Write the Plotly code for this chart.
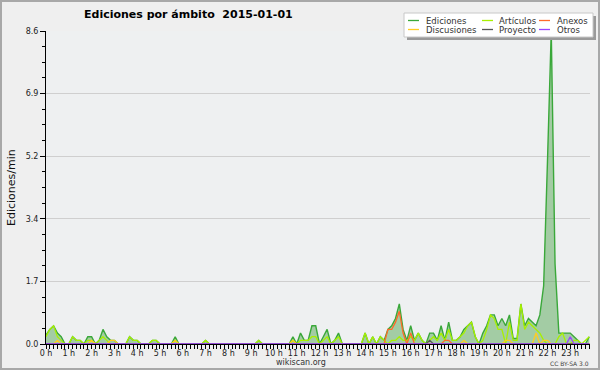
import plotly.graph_objects as go

# ---- data (10-minute steps, 00:00 .. 23:50), edits per minute ----
minutes = list(range(0, 1440, 10))
hour_labels = [f"{h} h" for h in range(24)]
hour_ticks = [h * 60 for h in range(24)]
y_ticks = [0, 1.72, 3.44, 5.16, 6.88, 8.6]
y_tick_labels = ["0.0", "1.7", "3.4", "5.2", "6.9", "8.6"]

ediciones = [
    0.25, 0.4, 0.5, 0.3, 0.2, 0,      # 0 h
    0, 0.2, 0.1, 0.1, 0, 0.2,         # 1 h
    0.2, 0, 0.1, 0.4, 0.2, 0.1,       # 2 h
    0.1, 0, 0, 0, 0.2, 0.1,           # 3 h
    0.1, 0, 0, 0, 0.1, 0.1,           # 4 h
    0, 0, 0, 0, 0.2, 0,               # 5 h
    0, 0, 0, 0, 0, 0,                 # 6 h
    0.1, 0, 0, 0, 0, 0,               # 7 h
    0, 0, 0, 0, 0, 0,                 # 8 h
    0, 0, 0.1, 0, 0, 0,               # 9 h
    0, 0, 0, 0, 0, 0.2,               # 10 h
    0, 0.3, 0.1, 0.1, 0.5, 0.5,       # 11 h
    0, 0.2, 0.4, 0, 0.1, 0.3,         # 12 h
    0, 0, 0, 0, 0, 0,                 # 13 h
    0.3, 0, 0.2, 0, 0.2, 0.1,         # 14 h
    0.4, 0.5, 0.7, 1.1, 0.4, 0.1,     # 15 h
    0.5, 0.1, 0.3, 0.1, 0, 0.3,       # 16 h
    0.3, 0.1, 0.5, 0.1, 0.6, 0.1,     # 17 h
    0.1, 0.2, 0.4, 0.5, 0.6, 0.2,     # 18 h
    0, 0.3, 0.5, 0.8, 0.8, 0.5,       # 19 h
    0.7, 0.5, 0.8, 0.15, 0.15, 1.1,   # 20 h
    0.5, 0.7, 0.6, 0.5, 0.8, 1.6,     # 21 h
    5.0, 8.6, 2.2, 0.3, 0.3, 0.3,     # 22 h
    0.3, 0.2, 0.1, 0, 0, 0.2,         # 23 h
]

articulos = [
    0.2, 0.4, 0.5, 0.2, 0.1, 0,
    0, 0.2, 0.1, 0.1, 0, 0.1,
    0.1, 0, 0.1, 0.2, 0.1, 0,
    0, 0, 0, 0, 0.2, 0.1,
    0.1, 0, 0, 0, 0.1, 0.1,
    0, 0, 0, 0, 0.1, 0,
    0, 0, 0, 0, 0, 0,
    0.1, 0, 0, 0, 0, 0,
    0, 0, 0, 0, 0, 0,
    0, 0, 0.1, 0, 0, 0,
    0, 0, 0, 0, 0, 0.1,
    0, 0.1, 0.1, 0.1, 0.2, 0.2,
    0, 0.1, 0.2, 0, 0.1, 0.2,
    0, 0, 0, 0, 0, 0,
    0.3, 0, 0.2, 0, 0.2, 0.1,
    0, 0.1, 0.1, 0.2, 0.1, 0.1,
    0.2, 0.1, 0.3, 0.1, 0, 0.1,
    0.2, 0.1, 0.3, 0.1, 0.4, 0.1,
    0.1, 0.2, 0.3, 0.5, 0.6, 0.2,
    0, 0.1, 0.4, 0.8, 0.7, 0.4,
    0.4, 0, 0.6, 0.1, 0.1, 1.1,
    0.4, 0.6, 0.5, 0.4, 0.3, 0.1,
    0, 0, 0, 0.2, 0.3, 0,
    0, 0.1, 0.1, 0, 0.1, 0.2,
]

anexos = [0] * 90 + [
    0.4, 0.4, 0.6, 0.9, 0.3, 0,       # 15 h
    0.3, 0, 0, 0, 0, 0,               # 16 h
    0, 0, 0, 0.1, 0.1, 0,             # 17 h
] + [0] * 36

discusiones = [
    0, 0, 0, 0.1, 0, 0,
    0, 0, 0, 0, 0, 0,
    0.1, 0, 0, 0, 0, 0.1,
    0.1, 0, 0, 0, 0, 0,
    0, 0, 0, 0, 0, 0,
    0, 0, 0, 0, 0.1, 0,
    0, 0, 0, 0, 0, 0,
    0, 0, 0, 0, 0, 0,
    0, 0, 0, 0, 0, 0,
    0, 0, 0, 0, 0, 0,
    0, 0, 0, 0, 0, 0.1,
    0, 0, 0, 0, 0, 0,
    0, 0, 0, 0, 0, 0,
    0, 0, 0, 0, 0, 0,
    0, 0, 0, 0, 0, 0,
    0, 0, 0, 0, 0, 0,
    0, 0, 0, 0, 0, 0,
    0, 0, 0, 0, 0, 0,
    0, 0, 0.1, 0, 0, 0,
    0, 0, 0, 0, 0, 0,
    0, 0.1, 0.1, 0, 0, 0,
    0, 0, 0, 0.3, 0, 0.1,
    0.1, 0, 0, 0, 0, 0,
    0, 0, 0, 0, 0, 0,
]

proyecto = [0] * 101 + [0.1] + [0] * 42
otros = [0] * 138 + [0.2] + [0] * 5

series = [
    ("Ediciones", ediciones, "#3aa83a"),
    ("Artículos", articulos, "#a8f000"),
    ("Anexos", anexos, "#ff6a2a"),
    ("Discusiones", discusiones, "#ffcc22"),
    ("Proyecto", proyecto, "#555555"),
    ("Otros", otros, "#9a44ff"),
]

# ---- layout geometry ----
W, H = 600, 370
L, R, T, B = 46, 10, 31, 26
PW, PH = W - L - R, H - T - B


def px(x):
    return (x - L) / PW


def py(y):
    return (H - B - y) / PH


FONT = "DejaVu Sans"
fig = go.Figure()

name, vals, col = series[0]
fig.add_trace(go.Scatter(x=minutes, y=vals, mode="lines", name=name,
                         line=dict(color=col, width=1.4),
                         fill="tozeroy", fillcolor="rgba(70,160,70,0.45)",
                         showlegend=False))
for name, vals, col in series[1:]:
    fig.add_trace(go.Scatter(x=minutes, y=vals, mode="lines", name=name,
                             line=dict(color=col, width=1.3), showlegend=False))

shapes = []
annotations = []

# outer frame
shapes.append(dict(type="rect", xref="paper", yref="paper",
                   x0=px(1), x1=px(W - 1), y0=py(H - 1), y1=py(1),
                   line=dict(color="#a8a8a8", width=2), fillcolor="rgba(0,0,0,0)",
                   layer="below"))

# legend box (manual)
shapes.append(dict(type="rect", xref="paper", yref="paper",
                   x0=px(407), x1=px(596), y0=py(40), y1=py(16),
                   line=dict(width=0), fillcolor="#9a9a9a"))
shapes.append(dict(type="rect", xref="paper", yref="paper",
                   x0=px(404), x1=px(593), y0=py(37), y1=py(13),
                   line=dict(color="#c8c8c8", width=1), fillcolor="#ffffff"))
leg_cols = [(408, 424), (482, 497), (539, 555)]
leg_rows = [20.5, 29.5]
for i, (name, vals, col) in enumerate(series):
    r, c = divmod(i, 3)
    x0, xt = leg_cols[c]
    yy = leg_rows[r]
    shapes.append(dict(type="line", xref="paper", yref="paper",
                       x0=px(x0), x1=px(x0 + 11), y0=py(yy), y1=py(yy),
                       line=dict(color=col, width=1.3)))
    annotations.append(dict(text=name, xref="paper", yref="paper",
                            x=px(xt), y=py(yy), xanchor="left", yanchor="middle",
                            showarrow=False, font=dict(family=FONT, size=8.5, color="#333")))

# title
annotations.append(dict(text="<b>Ediciones por ámbito  2015-01-01</b>", xref="paper", yref="paper",
                        x=px(188), y=py(14), xanchor="center", yanchor="middle",
                        showarrow=False, font=dict(family=FONT, size=11, color="#000")))
# y-axis title
annotations.append(dict(text="Ediciones/min", xref="paper", yref="paper",
                        x=px(11), y=py(188), xanchor="center", yanchor="middle",
                        textangle=-90, showarrow=False,
                        font=dict(family=FONT, size=11, color="#111")))
# footer texts
annotations.append(dict(text="wikiscan.org", xref="paper", yref="paper",
                        x=px(301), y=py(362), xanchor="center", yanchor="middle",
                        showarrow=False, font=dict(family=FONT, size=8, color="#333")))
annotations.append(dict(text="CC BY-SA 3.0", xref="paper", yref="paper",
                        x=px(569), y=py(363), xanchor="center", yanchor="middle",
                        showarrow=False, font=dict(family=FONT, size=6, color="#444")))

fig.update_layout(
    width=W, height=H,
    margin=dict(l=L, r=R, t=T, b=B, pad=0),
    paper_bgcolor="#efefef",
    plot_bgcolor="#eef0f1",
    showlegend=False,
    shapes=shapes,
    annotations=annotations,
    xaxis=dict(range=[0, 1432], showgrid=False, zeroline=False,
               showline=True, linecolor="#000", linewidth=1,
               tickmode="array", tickvals=hour_ticks, ticktext=hour_labels,
               ticks="outside", ticklen=4, tickcolor="#000", tickwidth=1,
               ticklabelstandoff=-3,
               minor=dict(dtick=10, tick0=0, ticks="outside", ticklen=4,
                          tickcolor="#000", showgrid=False),
               tickfont=dict(family=FONT, size=8, color="#222")),
    yaxis=dict(range=[0, 8.6], showgrid=True, gridcolor="#cfcfcf", gridwidth=1,
               zeroline=False, showline=True, linecolor="#000", linewidth=1,
               tickmode="array", tickvals=y_ticks, ticktext=y_tick_labels,
               ticks="outside", ticklen=5, tickcolor="#000",
               minor=dict(dtick=0.43, tick0=0, ticks="outside", ticklen=3,
                          tickcolor="#000", showgrid=False),
               tickfont=dict(family=FONT, size=8, color="#222")),
)

fig.write_html("out.html", config={"displayModeBar": False},
               post_script="document.body.style.margin='0';document.body.style.overflow='hidden';")
